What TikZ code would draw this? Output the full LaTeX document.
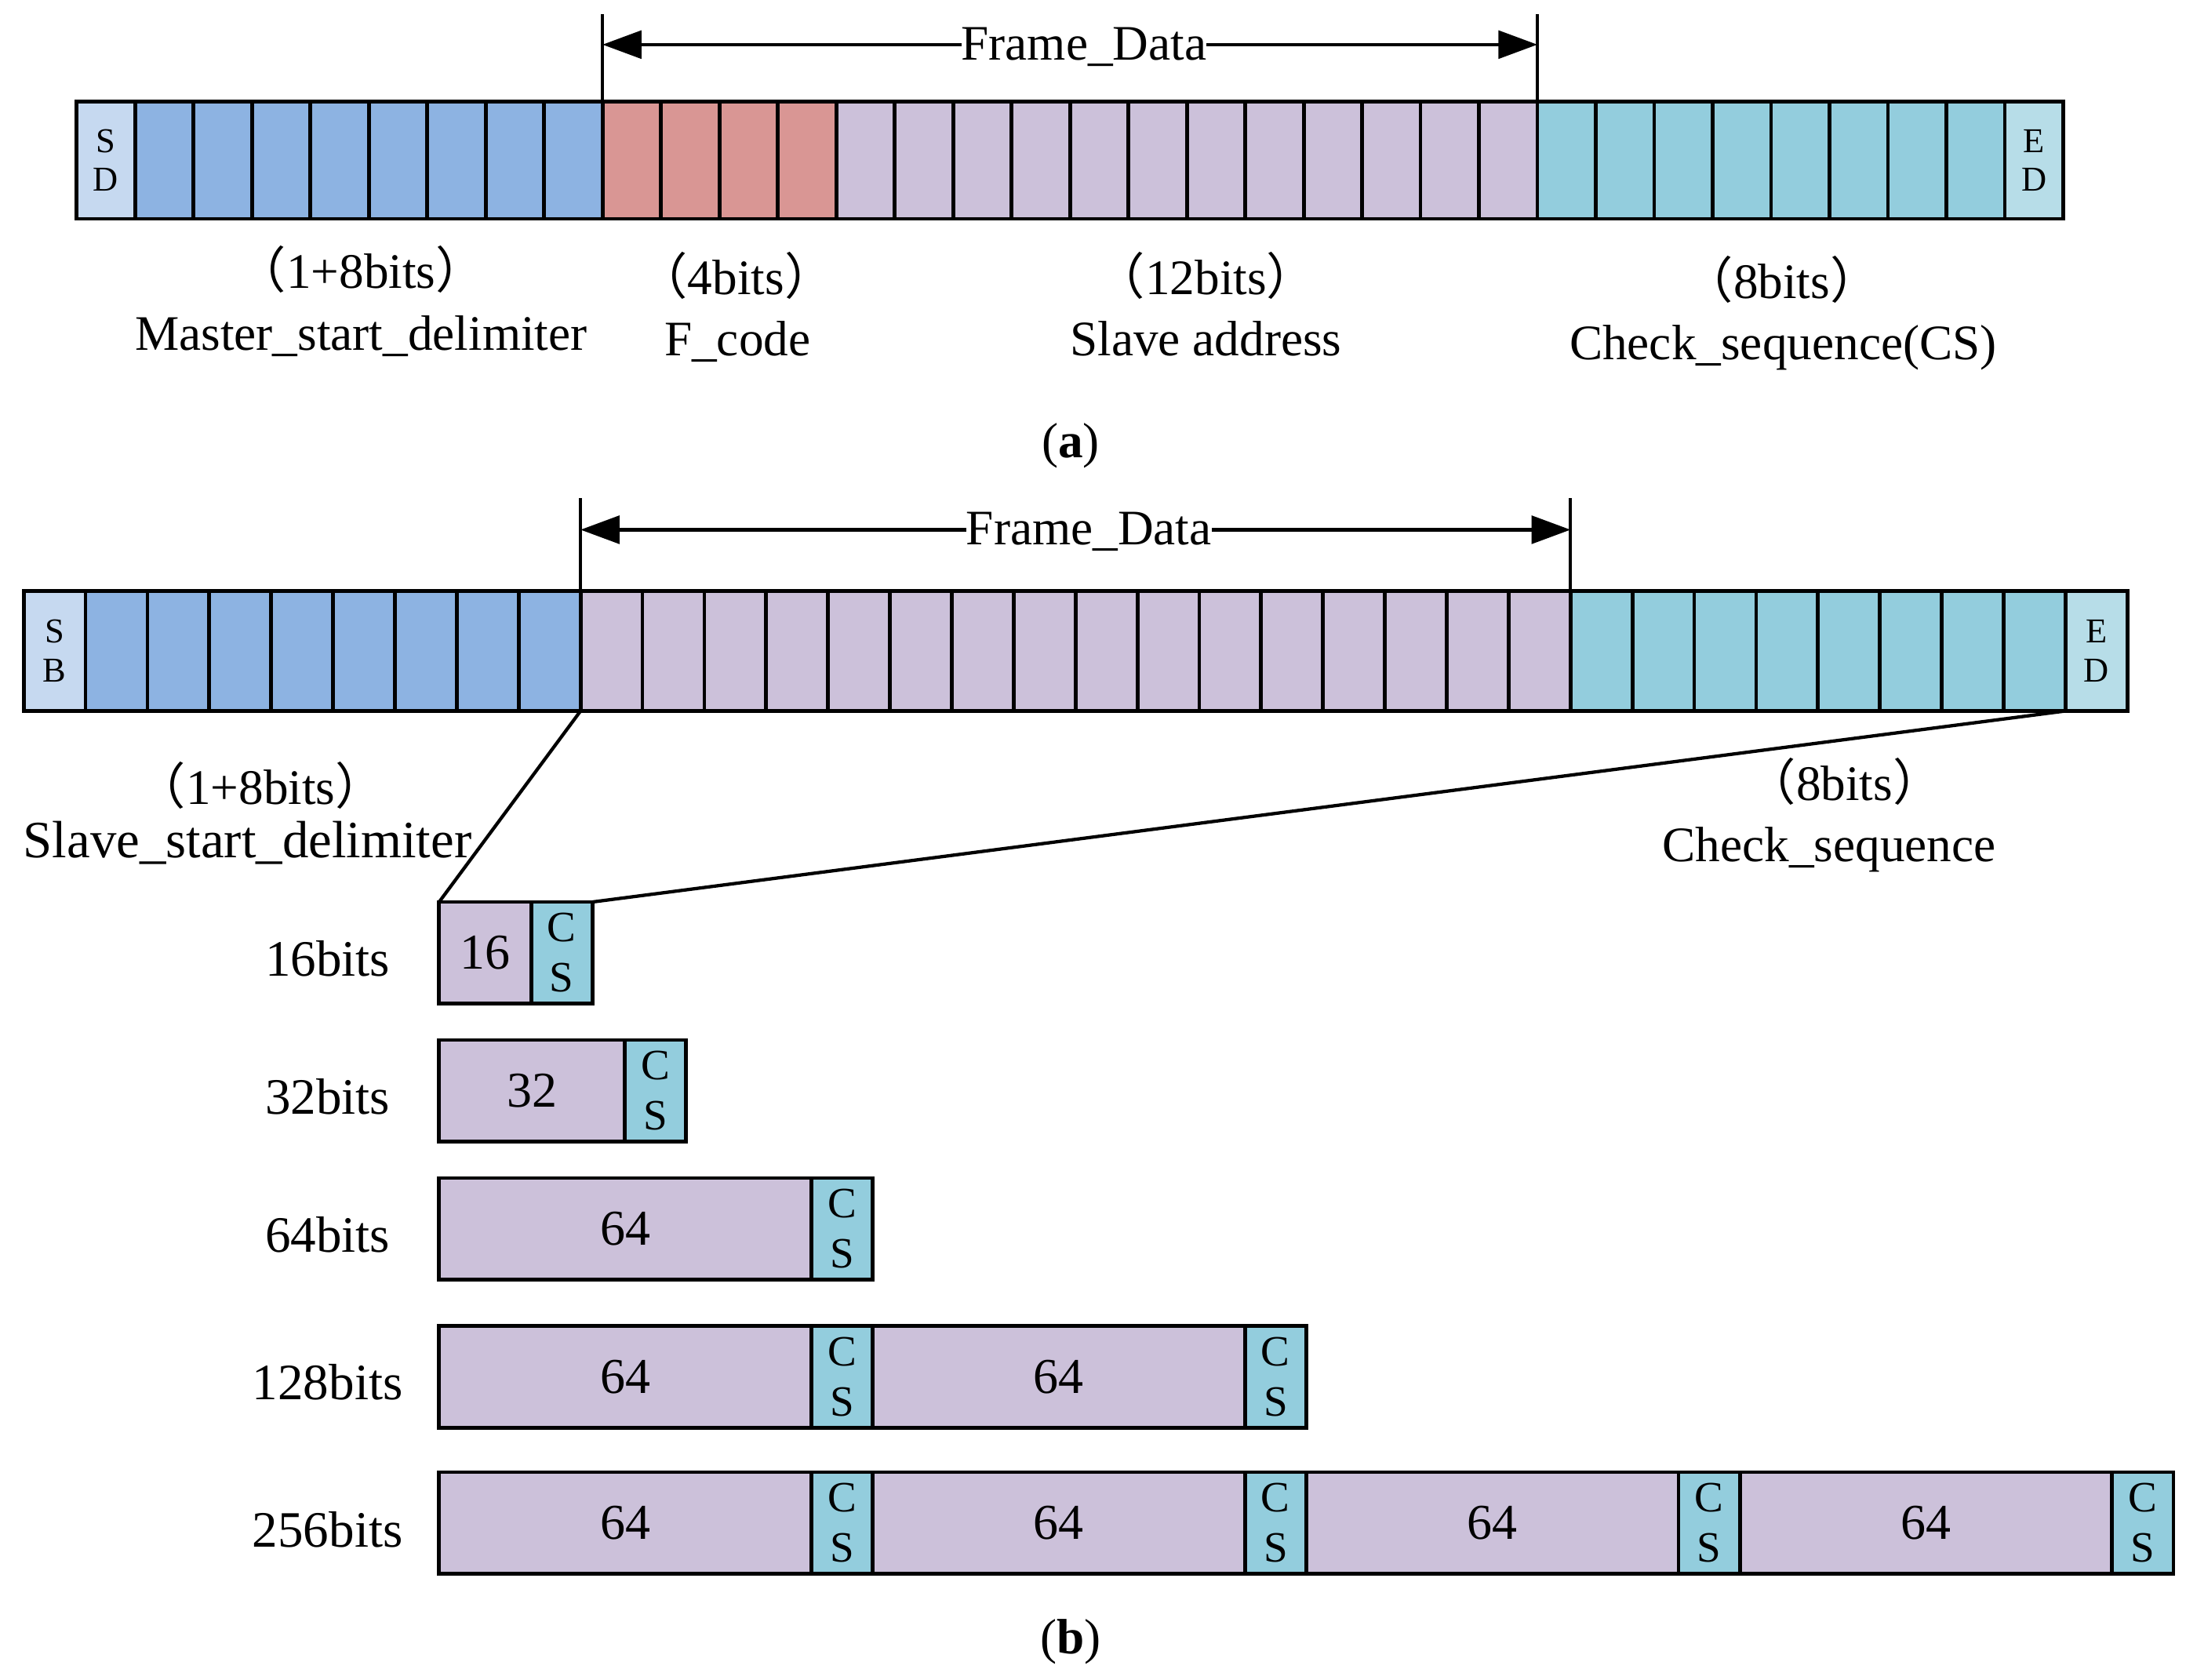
\documentclass[tikz,border=0pt]{standalone}
\usepackage{fontspec}
\setmainfont{Liberation Serif}
\newfontfamily\cjk{Noto Sans CJK SC}
\usetikzlibrary{arrows.meta}
\definecolor{cSD}{HTML}{C6D9F0}
\definecolor{cBlue}{HTML}{8DB3E2}
\definecolor{cRed}{HTML}{D99694}
\definecolor{cLav}{HTML}{CCC1DA}
\definecolor{cTeal}{HTML}{93CDDD}
\definecolor{cED}{HTML}{B7DDE8}
\newcommand{\fp}[1]{{\cjk （}#1{\cjk ）}}
\begin{document}
\begin{tikzpicture}[x=0.5pt,y=-0.5pt,
  cell/.style={draw, line width=1.35pt, inner sep=0pt, outer sep=0pt, anchor=north west},
  acell/.style={cell, minimum width=20.955pt, minimum height=42pt},
  bcell/.style={cell, minimum width=22.19pt, minimum height=43pt},
  rcell/.style={cell, minimum height=36.5pt},
  w16/.style={rcell, fill=cLav, minimum width=33pt},
  w32/.style={rcell, fill=cLav, minimum width=66.5pt},
  w64/.style={rcell, fill=cLav, minimum width=133.5pt},
  wcs/.style={rcell, fill=cTeal, minimum width=22pt, align=center,
    font=\fontsize{15.5}{18}\selectfont},
  num/.style={font=\fontsize{18}{21}\selectfont},
  endtxt/.style={align=center, font=\fontsize{12.5}{14}\selectfont},
  lbl/.style={font=\fontsize{17.8}{21}\selectfont, inner sep=0pt, anchor=base},
  span/.style={line width=1.2pt, {Triangle[length=14pt,width=10pt]}-{Triangle[length=14pt,width=10pt]}},
  tick/.style={line width=1.1pt},
  link/.style={line width=1.2pt}
]
\useasboundingbox (0,0) rectangle (1568,1205);

% ---------- (a) ----------
\node[acell, fill=cSD, endtxt] (a0) at (55,73) {S\\D};
\foreach \i in {1,...,8} \node[acell, fill=cBlue] (a\i) at ({55+\i*41.91},73) {};
\foreach \i in {9,...,12} \node[acell, fill=cRed] (a\i) at ({55+\i*41.91},73) {};
\foreach \i in {13,...,24} \node[acell, fill=cLav] (a\i) at ({55+\i*41.91},73) {};
\foreach \i in {25,...,32} \node[acell, fill=cTeal] (a\i) at ({55+\i*41.91},73) {};
\node[acell, fill=cED, endtxt] (a33) at ({55+33*41.91},73) {E\\D};

\draw[tick] (a9.north west) -- (a9.north west |- 0,10) coordinate (ta1);
\draw[tick] (a25.north west) -- (a25.north west |- 0,10) coordinate (ta2);
\draw[span] (a9.north west |- 0,32) -- (a25.north west |- 0,32);
\node[lbl, fill=white] (fda) at (777.5,43) {Frame\_Data};

\node[lbl] (la1) at (259,207) {\fp{1+8bits}};
\node[lbl] (la2) at (259,251) {Master\_start\_delimiter};
\node[lbl] (la3) at (528,211) {\fp{4bits}};
\node[lbl] (la4) at (529,255) {F\_code};
\node[lbl] (la5) at (865,211) {\fp{12bits}};
\node[lbl] (la6) at (865,255) {Slave address};
\node[lbl] (la7) at (1278,214) {\fp{8bits}};
\node[lbl] (la8) at (1279,258) {Check\_sequence(CS)};
\node[lbl] (capa) at (768,328) {(\textbf{a})};

% ---------- (b) ----------
\node[bcell, fill=cSD, endtxt] (b0) at (17,424) {S\\B};
\foreach \i in {1,...,8} \node[bcell, fill=cBlue] (b\i) at ({17+\i*44.38},424) {};
\foreach \i in {9,...,24} \node[bcell, fill=cLav] (b\i) at ({17+\i*44.38},424) {};
\foreach \i in {25,...,32} \node[bcell, fill=cTeal] (b\i) at ({17+\i*44.38},424) {};
\node[bcell, fill=cED, endtxt] (b33) at ({17+33*44.38},424) {E\\D};

\draw[tick] (b9.north west) -- (b9.north west |- 0,357) coordinate (tb1);
\draw[tick] (b25.north west) -- (b25.north west |- 0,357) coordinate (tb2);
\draw[span] (b9.north west |- 0,380) -- (b25.north west |- 0,380);
\node[lbl, fill=white] (fdb) at (781,391) {Frame\_Data};

\node[lbl] (lb1) at (187,577) {\fp{1+8bits}};
\node[lbl] (lb2) at (177.5,615) {\fontsize{18.8}{21}\selectfont Slave\_start\_delimiter};
\node[lbl] (lb3) at (1323,574) {\fp{8bits}};
\node[lbl] (lb4) at (1312,618) {Check\_sequence};

% rows
\node[w16] (r1a) at (315,647) {};
\node[num] at (r1a.center) {16};
\node[wcs] (r1c) at (381,647) {C\\S};

\node[w32] (r2a) at (315,746) {};
\node[num] at (r2a.center) {32};
\node[wcs] (r2c) at (448,746) {C\\S};

\node[w64] (r3a) at (315,845) {};
\node[num] at (r3a.center) {64};
\node[wcs] (r3c) at (582,845) {C\\S};

\foreach \k/\x in {1/315,2/626} {
  \node[w64] (r4a\k) at (\x,951) {};
  \node[num] at (r4a\k.center) {64};
  \node[wcs] (r4c\k) at ({\x+267},951) {C\\S};
}
\foreach \k/\x in {1/315,2/626,3/937,4/1248} {
  \node[w64] (r5a\k) at (\x,1056) {};
  \node[num] at (r5a\k.center) {64};
  \node[wcs] (r5c\k) at ({\x+267},1056) {C\\S};
}

\node[lbl, font=\fontsize{18.3}{21}\selectfont] (n16) at (235,700) {16bits};
\node[lbl, font=\fontsize{18.3}{21}\selectfont] (n32) at (235,799) {32bits};
\node[lbl, font=\fontsize{18.3}{21}\selectfont] (n64) at (235,898) {64bits};
\node[lbl, font=\fontsize{18.3}{21}\selectfont] (n128) at (235,1004) {128bits};
\node[lbl, font=\fontsize{18.3}{21}\selectfont] (n256) at (235,1110) {256bits};

\draw[link] (b9.south west) -- (r1a.north west);
\draw[link] (b33.south west) -- (r1c.north east);

\node[lbl] (capb) at (768,1186) {(\textbf{b})};
\end{tikzpicture}
\end{document}
